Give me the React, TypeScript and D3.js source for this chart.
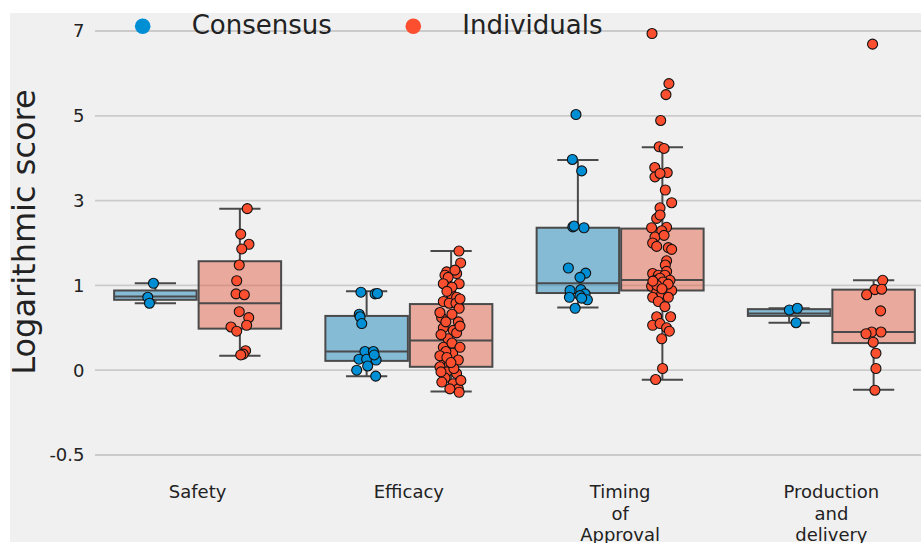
import React, { useRef, useEffect } from 'react';
import * as d3 from 'd3';

const categories = ['Safety', 'Efficacy', 'Timing\nof\nApproval', 'Production\nand\ndelivery'];
const hues = ['Consensus', 'Individuals'];
const pointColors = ['#008fd5', '#fc4f30'];
const boxColors = ['#1b86ba', '#e26149']; // palette desaturated to 0.75
const yTicks = [-0.5, 0, 1, 3, 5, 7];

// points: [jitter (fraction of category step), score]
const safetyConsensus = [[-0.009, 1.05], [-0.036, 0.86], [-0.028, 0.79]];
const safetyIndividuals = [
  [0.035, 2.81], [0.004, 2.21], [0.043, 1.97], [0.009, 1.86], [-0.003, 1.48], [-0.015, 1.11],
  [-0.018, 0.9], [0.021, 0.89], [-0.003, 0.69], [0.042, 0.62], [0.032, 0.53], [-0.042, 0.51],
  [-0.015, 0.46], [0.027, 0.23], [0.016, 0.19], [0.004, 0.18],
];
const efficacyConsensus = [
  [-0.027, 0.92], [0.04, 0.9], [0.051, 0.905], [-0.035, 0.66], [-0.031, 0.63], [-0.023, 0.55],
  [-0.008, 0.22], [0.032, 0.22], [-0.036, 0.13], [0.0, 0.13], [0.045, 0.12], [0.036, 0.18],
  [0.005, 0.05], [-0.047, 0.0], [0.043, -0.035],
];
const efficacyIndividuals = [
  [0.037, 1.81], [0.045, 1.53], [-0.021, 1.32], [-0.029, 1.24], [0.026, 1.28], [-0.014, 1.19],
  [-0.037, 1.04], [0.038, 1.04], [0.002, 0.89], [0.026, 0.86], [-0.037, 0.81], [-0.009, 0.79],
  [0.023, 0.79], [0.038, 0.73], [-0.045, 0.62], [0.034, 0.57], [-0.037, 0.5], [0.01, 0.47],
  [0.026, 0.44], [-0.014, 0.37], [-0.037, 0.27], [0.007, 0.2], [0.034, 0.12], [-0.034, 0.13],
  [-0.009, 0.06], [-0.053, 0.04], [-0.021, -0.01], [0.026, -0.02], [-0.029, -0.045], [0.01, -0.08],
  [0.034, -0.11], [0.038, -0.13], [0.018, 1.36], [0.004, 0.98], [-0.02, 0.93], [0.042, 0.84],
  [-0.053, 0.68], [0.004, 0.66], [-0.025, 0.57], [0.042, 0.52], [-0.048, 0.42], [0.004, 0.32],
  [-0.025, 0.22], [0.042, 0.27], [-0.053, 0.17], [0.013, 0.02], [-0.044, -0.07], [-0.006, -0.11],
  [0.046, -0.06], [-0.048, -0.01], [-0.02, 0.15], [-0.001, 0.09],
];
const timingConsensus = [
  [-0.009, 5.03], [-0.026, 3.97], [0.018, 3.7], [-0.024, 2.38], [-0.018, 2.4], [0.029, 2.36],
  [-0.045, 1.41], [0.037, 1.29], [0.01, 1.19], [-0.037, 0.94], [0.014, 0.95], [0.034, 0.9],
  [-0.04, 0.86], [0.01, 0.88], [0.045, 0.83], [0.018, 0.85], [-0.013, 0.73],
];
const timingIndividuals = [
  [-0.049, 6.94], [0.031, 5.76], [0.017, 5.5], [-0.008, 4.89], [-0.015, 4.27], [0.008, 4.23],
  [-0.036, 3.78], [0.023, 3.66], [-0.035, 3.56], [-0.011, 3.64], [0.014, 3.25], [0.044, 2.95],
  [-0.011, 2.83], [-0.027, 2.58], [-0.011, 2.66], [-0.051, 2.36], [0.02, 2.37], [-0.003, 2.29],
  [-0.035, 2.14], [0.008, 2.18], [-0.046, 2.0], [-0.027, 1.92], [0.028, 1.89], [0.044, 1.85],
  [0.02, 1.58], [0.014, 1.48], [0.02, 1.33], [-0.046, 1.28], [-0.019, 1.24], [0.012, 1.24],
  [-0.035, 1.12], [0.036, 1.12], [-0.015, 1.04], [-0.051, 0.99], [0.02, 0.98], [0.044, 0.94],
  [-0.027, 0.92], [-0.003, 0.9], [-0.046, 0.86], [0.028, 0.86], [-0.019, 0.81], [0.012, 0.75],
  [-0.027, 0.63], [0.039, 0.63], [-0.046, 0.53], [-0.011, 0.55], [0.02, 0.5], [0.033, 0.46],
  [-0.003, 0.37], [0.001, 0.02], [-0.032, -0.055], [-0.011, 1.17], [0.003, 1.08], [-0.026, 1.0],
  [0.027, 1.03], [-0.045, 1.1], [-0.002, 0.96],
];
const productionConsensus = [[0.001, 0.71], [0.039, 0.73], [0.033, 0.56]];
const productionIndividuals = [
  [-0.005, 6.69], [0.043, 1.12], [0.006, 0.95], [0.038, 0.955], [-0.033, 0.89], [0.033, 0.7],
  [-0.009, 0.45], [-0.036, 0.43], [0.035, 0.45], [-0.002, 0.33], [0.011, 0.2], [0.011, 0.02],
  [0.006, -0.118],
];

// boxes: [lower whisker, q1, median, q3, upper whisker]
const consensusBoxes = [
  [0.79, 0.83, 0.87, 0.94, 1.05],
  [-0.035, 0.11, 0.22, 0.64, 0.93],
  [0.74, 0.91, 1.05, 2.36, 3.96],
  [0.56, 0.64, 0.67, 0.72, 0.73],
];
const individualsBoxes = [
  [0.17, 0.49, 0.79, 1.57, 2.81],
  [-0.125, 0.04, 0.35, 0.78, 1.81],
  [-0.057, 0.94, 1.13, 2.34, 4.26],
  [-0.116, 0.32, 0.45, 0.95, 1.12],
];

const pointsByHue = [
  [safetyConsensus, efficacyConsensus, timingConsensus, productionConsensus],
  [safetyIndividuals, efficacyIndividuals, timingIndividuals, productionIndividuals],
];
const boxesByHue = [consensusBoxes, individualsBoxes];

const WIDTH = 921;
const HEIGHT = 543;
const FONT = '"DejaVu Sans", sans-serif';

export default function App() {
  const svgRef = useRef<SVGSVGElement>(null);

  useEffect(() => {
    if (!svgRef.current) return;
    const svg = d3.select(svgRef.current);
    svg.selectAll('*').remove();

    // figure background (cropped figure, white strip top/left)
    svg.append('rect').attr('x', 0).attr('y', 0).attr('width', WIDTH).attr('height', HEIGHT).attr('fill', '#fff');
    svg.append('rect').attr('x', 10).attr('y', 13).attr('width', WIDTH - 10).attr('height', HEIGHT - 14).attr('fill', '#f0f0f0');

    const plotLeft = 92;
    const plotRight = 937;

    const x = d3.scaleBand<string>().domain(categories).range([plotLeft, plotRight]).paddingInner(0).paddingOuter(0);
    const step = x.bandwidth();

    // the axis is evenly spaced between its tick labels
    const tickStep = 84.8;
    const yBottom = 455;
    const y = d3.scaleLinear()
      .domain(yTicks)
      .range(yTicks.map((_, i) => yBottom - i * tickStep));

    // grid
    svg.append('g')
      .selectAll('line')
      .data(yTicks)
      .join('line')
      .attr('x1', 95)
      .attr('x2', WIDTH)
      .attr('y1', d => y(d))
      .attr('y2', d => y(d))
      .attr('stroke', '#cbcbcb')
      .attr('stroke-width', 1.8);

    // y tick labels
    svg.append('g')
      .selectAll('text')
      .data(yTicks)
      .join('text')
      .attr('x', 84.5)
      .attr('y', d => y(d))
      .attr('dy', '0.36em')
      .attr('text-anchor', 'end')
      .style('font-family', FONT)
      .style('font-size', '18px')
      .style('fill', '#222')
      .text(d => String(d));

    // x tick labels
    const xLabels = svg.append('g')
      .selectAll('text')
      .data(categories)
      .join('text')
      .attr('x', d => (x(d) as number) + step / 2)
      .attr('y', 498)
      .attr('text-anchor', 'middle')
      .style('font-family', FONT)
      .style('font-size', '18px')
      .style('fill', '#222');
    xLabels.selectAll('tspan')
      .data(d => d.split('\n'))
      .join('tspan')
      .attr('x', function () {
        return (this as SVGTSpanElement).parentElement!.getAttribute('x');
      })
      .attr('dy', (_, i) => (i === 0 ? 0 : 21.7))
      .text(d => d);

    // y axis label
    svg.append('text')
      .attr('transform', `translate(35, 232) rotate(-90)`)
      .attr('text-anchor', 'middle')
      .style('font-family', FONT)
      .style('font-size', '32px')
      .style('fill', '#222')
      .text('Logarithmic score');

    const hueOffset = [-0.2 * step, 0.2 * step];
    const boxW = 0.4 * step - 2;
    const edge = '#4a4a4a';

    // boxes
    hues.forEach((_, h) => {
      const g = svg.append('g');
      boxesByHue[h].forEach((b, c) => {
        const cx = (x(categories[c]) as number) + step / 2 + hueOffset[h];
        const [lo, q1, med, q3, hi] = b;
        g.append('line').attr('x1', cx).attr('x2', cx).attr('y1', y(q3)).attr('y2', y(hi))
          .attr('stroke', edge).attr('stroke-width', 2);
        g.append('line').attr('x1', cx).attr('x2', cx).attr('y1', y(q1)).attr('y2', y(lo))
          .attr('stroke', edge).attr('stroke-width', 2);
        [lo, hi].forEach(v => {
          g.append('line').attr('x1', cx - boxW / 4).attr('x2', cx + boxW / 4)
            .attr('y1', y(v)).attr('y2', y(v)).attr('stroke', edge).attr('stroke-width', 2);
        });
        g.append('rect')
          .attr('x', cx - boxW / 2)
          .attr('y', y(q3))
          .attr('width', boxW)
          .attr('height', y(q1) - y(q3))
          .attr('fill', boxColors[h])
          .attr('fill-opacity', 0.5)
          .attr('stroke', edge)
          .attr('stroke-width', 2);
        g.append('line').attr('x1', cx - boxW / 2).attr('x2', cx + boxW / 2)
          .attr('y1', y(med)).attr('y2', y(med)).attr('stroke', edge).attr('stroke-width', 2);
      });
    });

    // strip points
    hues.forEach((_, h) => {
      pointsByHue[h].forEach((pts, c) => {
        const cx = (x(categories[c]) as number) + step / 2 + hueOffset[h];
        svg.append('g')
          .selectAll('circle')
          .data(pts)
          .join('circle')
          .attr('cx', d => cx + d[0] * step)
          .attr('cy', d => y(d[1]))
          .attr('r', 5)
          .attr('fill', pointColors[h])
          .attr('stroke', '#111')
          .attr('stroke-width', 1.1);
      });
    });

    // legend
    const legendX = [142.7, 413.3];
    const legend = svg.append('g');
    hues.forEach((name, h) => {
      legend.append('circle').attr('cx', legendX[h]).attr('cy', 26.3).attr('r', 7.8).attr('fill', pointColors[h]);
      legend.append('text')
        .attr('x', legendX[h] + 49)
        .attr('y', 34.3)
        .style('font-family', FONT)
        .style('font-size', '26px')
        .style('fill', '#222')
        .text(name);
    });
  }, []);

  return (
    <svg
      ref={svgRef}
      width={WIDTH}
      height={HEIGHT}
      style={{ position: 'absolute', left: 0, top: 0, display: 'block' }}
    />
  );
}
